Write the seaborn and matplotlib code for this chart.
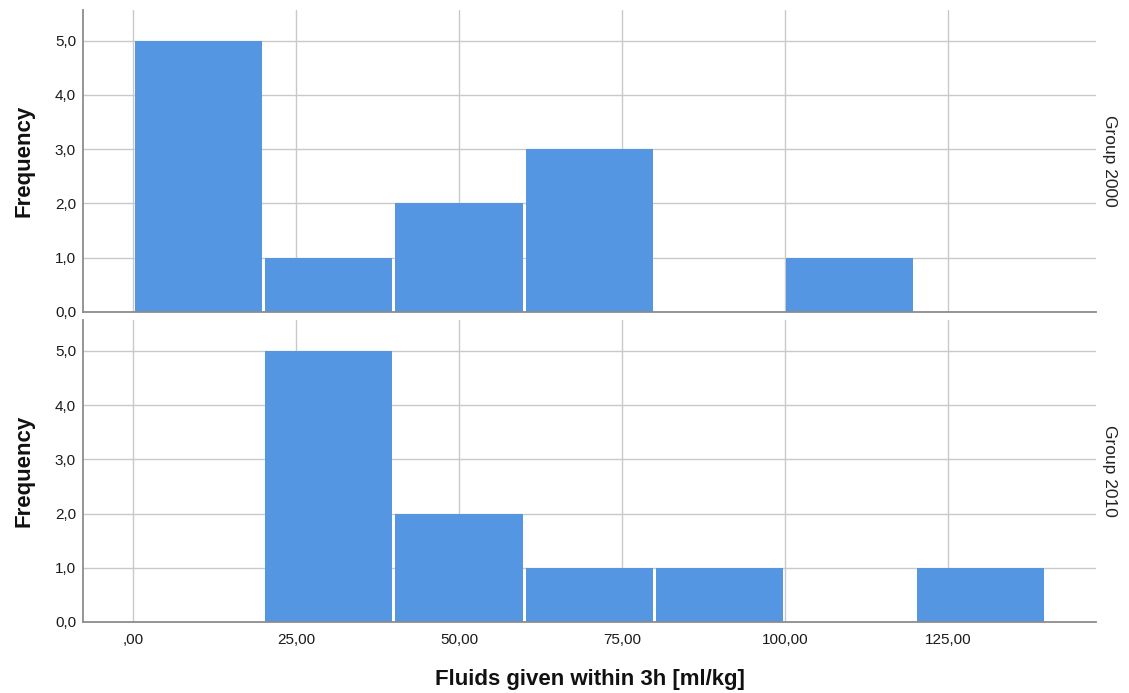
import seaborn as sns
import matplotlib.pyplot as plt
import numpy as np
from matplotlib.ticker import FuncFormatter

sns.set_style("white")
plt.rcParams['font.family'] = ['Liberation Sans', 'DejaVu Sans']

# ----------- Data (bin counts) -----------
bin_edges = [0, 20, 40, 60, 80, 100, 120, 140]
groups = ["Group 2000", "Group 2010"]
counts_2000 = [5, 1, 2, 3, 0, 1, 0]
counts_2010 = [0, 5, 2, 1, 1, 0, 1]
x_ticks = [0, 25, 50, 75, 100, 125]
y_ticks = [0, 1, 2, 3, 4, 5]

mids = [(a + b) / 2 for a, b in zip(bin_edges[:-1], bin_edges[1:])]
bar_color = "#5596e3"
grid_color = "#c9c9c9"
spine_color = "#8c8c8c"


def x_fmt(v, p):
    s = f"{v:.2f}".replace(".", ",")
    return s.lstrip("0") if v == 0 else s


fig, axes = plt.subplots(2, 1, figsize=(11.29, 6.93), dpi=100, sharex=True)
plt.subplots_adjust(left=0.0735, right=0.971, top=0.986, bottom=0.1025, hspace=0.027)

for ax, grp, counts in zip(axes, groups, [counts_2000, counts_2010]):
    sns.histplot(x=mids, weights=counts, bins=bin_edges, ax=ax, shrink=0.975,
                 color=bar_color, alpha=1, linewidth=0, zorder=3)
    ax.set_xlim(-7.7, 147.8)
    ax.set_ylim(0, 5.57)
    ax.set_xticks(x_ticks)
    ax.set_yticks(y_ticks)
    ax.grid(True, color=grid_color, linewidth=1, zorder=0)
    ax.set_axisbelow(True)
    for s in ["top", "right"]:
        ax.spines[s].set_visible(False)
    for s in ["left", "bottom"]:
        ax.spines[s].set_color(spine_color)
        ax.spines[s].set_linewidth(1.3)
        ax.spines[s].set_zorder(5)
    ax.tick_params(length=0, labelsize=11, colors="#1a1a1a", pad=5)
    ax.yaxis.set_major_formatter(FuncFormatter(lambda v, p: f"{v:.1f}".replace(".", ",")))
    ax.set_ylabel("Frequency", fontsize=16, fontweight="bold", labelpad=14.5, color="#111111")
    ax.text(1.013, 0.5, grp, transform=ax.transAxes, rotation=270,
            va="center", ha="center", fontsize=12.5, color="#222222")
    ax.set_xlabel("")

axes[1].xaxis.set_major_formatter(FuncFormatter(x_fmt))
axes[1].tick_params(axis="x", pad=8)
axes[1].set_xlabel("Fluids given within 3h [ml/kg]", fontsize=16, fontweight="bold",
                   labelpad=16, color="#111111")

plt.savefig("out.png", dpi=100)
